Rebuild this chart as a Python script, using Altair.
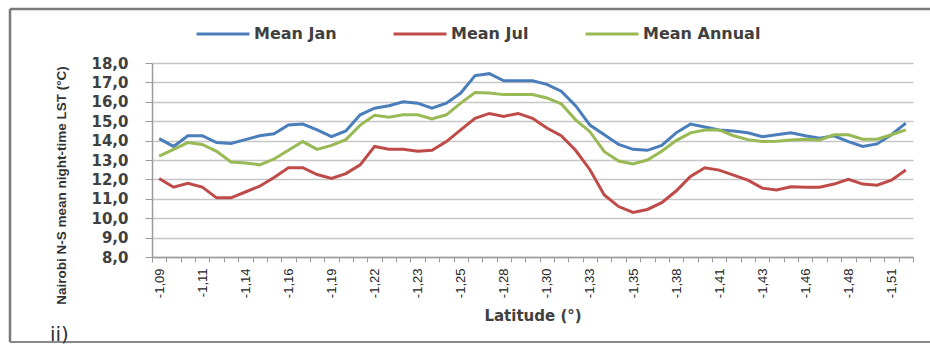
import json

import altair as alt
import pandas as pd

# Tick labels on the latitude axis (one every third sample)
lat_labels = ["-1,09", "-1,11", "-1,14", "-1,16", "-1,19", "-1,22", "-1,23", "-1,25", "-1,28",
              "-1,30", "-1,33", "-1,35", "-1,38", "-1,41", "-1,43", "-1,46", "-1,48", "-1,51"]

# Mean night-time LST (°C) along the N-S transect
mean_jan = [14.1, 13.7, 14.25, 14.25, 13.9, 13.85, 14.05, 14.25, 14.35, 14.8,
            14.85, 14.55, 14.2, 14.5, 15.33, 15.67, 15.8, 16.0, 15.93, 15.67,
            15.93, 16.45, 17.35, 17.45, 17.08, 17.08, 17.08, 16.9, 16.55, 15.8,
            14.8, 14.3, 13.8, 13.55, 13.5, 13.75, 14.4, 14.85, 14.7, 14.55,
            14.5, 14.4, 14.2, 14.3, 14.4, 14.25, 14.12, 14.25, 13.95, 13.7,
            13.83, 14.3, 14.9]
mean_jul = [12.05, 11.6, 11.8, 11.6, 11.05, 11.05, 11.35, 11.65, 12.1, 12.6,
            12.6, 12.25, 12.05, 12.3, 12.75, 13.7, 13.55, 13.55, 13.45, 13.5,
            13.95, 14.55, 15.15, 15.4, 15.25, 15.4, 15.15, 14.65, 14.25, 13.5,
            12.5, 11.2, 10.6, 10.3, 10.45, 10.8, 11.4, 12.15, 12.6, 12.48,
            12.22, 11.96, 11.55, 11.45, 11.62, 11.6, 11.6, 11.76, 12.0, 11.76,
            11.7, 11.96, 12.48]
mean_annual = [13.2, 13.55, 13.9, 13.8, 13.45, 12.9, 12.85, 12.75, 13.05, 13.5,
               13.95, 13.55, 13.75, 14.05, 14.8, 15.3, 15.2, 15.33, 15.33, 15.12,
               15.33, 15.93, 16.48, 16.45, 16.37, 16.37, 16.37, 16.2, 15.9, 15.07,
               14.46, 13.43, 12.95, 12.8, 13.0, 13.45, 14.0, 14.4, 14.55, 14.55,
               14.25, 14.05, 13.95, 13.97, 14.03, 14.07, 14.03, 14.3, 14.3, 14.07,
               14.07, 14.3, 14.55]

series_names = ["Mean Jan", "Mean Jul", "Mean Annual"]
series_colors = ["#4A7EBB", "#BE4B48", "#98B954"]

rows = []
for name, vals in zip(series_names, [mean_jan, mean_jul, mean_annual]):
    for i, v in enumerate(vals):
        rows.append({"idx": i, "series": name, "lst": v})
df = pd.DataFrame(rows)

W, H = 761, 194
LEFT, TOP = 152, 63

label_js = json.dumps(lat_labels)

x_enc = alt.X(
    "idx:O",
    scale=alt.Scale(type="band", paddingInner=0, paddingOuter=0),
    axis=alt.Axis(
        title="Latitude (°)",
        labelExpr=f"datum.value % 3 == 0 ? {label_js}[datum.value / 3] : ''",
        labelAngle=270,
        labelOverlap=False,
        labelFont="Liberation Sans",
        labelFontSize=13,
        labelColor="#262626",
        labelPadding=6,
        tickBand="extent",
        tickSize=5,
        tickColor="#9a9a9a",
        domainColor="#9a9a9a",
        domainWidth=1.5,
        grid=False,
        titleFont="DejaVu Sans",
        titleFontSize=15,
        titleFontWeight="bold",
        titleColor="#404040",
        titleX=W / 2,
        titleY=58,
        titleAlign="center",
        titleBaseline="middle",
    ),
)

y_enc = alt.Y(
    "lst:Q",
    scale=alt.Scale(domain=[8, 18], nice=False, zero=False),
    axis=alt.Axis(
        title="Nairobi N-S mean night-time LST (°C)",
        values=list(range(8, 19)),
        labelExpr="replace(format(datum.value, '.1f'), '.', ',')",
        labelFont="DejaVu Sans",
        labelFontSize=15,
        labelFontWeight="bold",
        labelColor="#404040",
        labelPadding=17,
        tickSize=7,
        tickColor="#9a9a9a",
        domainColor="#9a9a9a",
        domainWidth=1.5,
        grid=True,
        gridColor="#c6c6c6",
        gridWidth=1.5,
        titleFont="Liberation Sans",
        titleFontSize=13.5,
        titleFontWeight="bold",
        titleColor="#333333",
        titleAngle=270,
        titleX=61 - LEFT,
        titleY=185 - TOP,
        titleAlign="center",
        titleBaseline="middle",
    ),
)

legend = alt.Legend(
    title=None,
    orient="none",
    legendX=195 - LEFT,
    legendY=-57,
    direction="horizontal",
    symbolType="stroke",
    symbolSize=2800,
    symbolStrokeWidth=3,
    labelFont="DejaVu Sans",
    labelFontSize=16,
    labelFontWeight="bold",
    labelColor="#404040",
    labelOffset=3,
    columnPadding=50,
)

color_enc = alt.Color(
    "series:N",
    scale=alt.Scale(domain=series_names, range=series_colors),
    legend=legend,
)

base = alt.Chart(df)
lines = [
    base.transform_filter(alt.datum.series == name)
    .mark_line(strokeWidth=3)
    .encode(x=x_enc, y=y_enc, color=color_enc)
    for name in series_names
]

# Outer frame edges of the figure
frame_src = alt.Chart(pd.DataFrame({"k": [0]}))
frame_top = frame_src.mark_rule(color="#7a7a7a", strokeWidth=2.5).encode(
    x=alt.value(10 - LEFT), x2=alt.value(930 - LEFT), y=alt.value(9 - TOP))
frame_left = frame_src.mark_rule(color="#7a7a7a", strokeWidth=2.5).encode(
    x=alt.value(10 - LEFT), y=alt.value(9 - TOP), y2=alt.value(342 - TOP))
frame_bottom = frame_src.mark_rule(color="#8a8a8a", strokeWidth=2).encode(
    x=alt.value(10 - LEFT), x2=alt.value(930 - LEFT), y=alt.value(342 - TOP))

panel_tag = frame_src.mark_text(
    align="left", baseline="alphabetic", font="DejaVu Sans", fontSize=20, color="#333333"
).encode(x=alt.value(50 - LEFT), y=alt.value(341 - TOP), text=alt.value("ii)"))

chart = (
    alt.layer(frame_top, frame_left, frame_bottom, *lines, panel_tag)
    .properties(
        width=W,
        height=H,
        autosize=alt.AutoSizeParams(type="none"),
        padding={"left": LEFT, "top": TOP, "right": 930 - LEFT - W, "bottom": 347 - TOP - H},
        background="white",
    )
    .configure_view(stroke=None)
)

chart.save("out.html", embed_options={"renderer": "svg", "actions": False})
